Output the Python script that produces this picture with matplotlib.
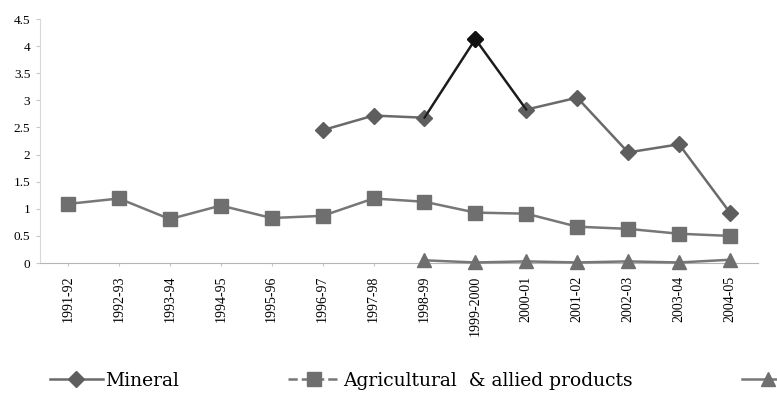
import numpy as np
import matplotlib
matplotlib.use("Agg")
import matplotlib.pyplot as plt
from matplotlib.lines import Line2D

years = ["1991-92", "1992-93", "1993-94", "1994-95", "1995-96", "1996-97", "1997-98",
         "1998-99", "1999-2000", "2000-01", "2001-02", "2002-03", "2003-04", "2004-05"]
mineral = [np.nan, np.nan, np.nan, np.nan, np.nan, 2.45, 2.72, 2.68, 4.13, 2.83, 3.05,
           2.04, 2.19, 0.93]
agri = [1.09, 1.19, 0.81, 1.06, 0.83, 0.87, 1.19, 1.13, 0.93, 0.91, 0.67, 0.63, 0.54, 0.50]
other = [np.nan, np.nan, np.nan, np.nan, np.nan, np.nan, np.nan, 0.05, 0.01, 0.03, 0.01,
         0.03, 0.01, 0.06]
yticks = [0, 0.5, 1, 1.5, 2, 2.5, 3, 3.5, 4, 4.5]
ytick_labels = ["0", "0.5", "1", "1.5", "2", "2.5", "3", "3.5", "4", "4.5"]
legend_labels = ["Mineral", "Agricultural  & allied products", ""]
peak = 8  # 1999-2000

plt.rcParams["font.family"] = ["Liberation Serif", "DejaVu Serif"]
fig = plt.figure(figsize=(7.77, 3.97), dpi=100)
ax = fig.add_axes([0.0515, 0.3375, 0.924, 0.6145])
x = np.arange(len(years))

sq = dict(color="#777777", lw=1.8, marker="s", ms=9.5, mfc="#6f6f6f", mec="#6f6f6f")
tri = dict(color="#777777", lw=1.8, marker="^", ms=10.5, mfc="#6f6f6f", mec="#6f6f6f")
dia = dict(color="#6a6a6a", lw=1.8, marker="D", ms=8.5, mfc="#5e5e5e", mec="#5e5e5e")

ax.plot(x, agri, **sq)
ax.plot(x, other, clip_on=False, zorder=3, **tri)
ax.plot(x, mineral, **dia)
# darker segments around the peak year
xs = x[peak - 1:peak + 2]
ax.plot(xs, mineral[peak - 1:peak + 2], color="#1a1a1a", lw=1.5)
ax.plot(x[peak], mineral[peak], marker="D", ms=8.5, color="#111111", ls="none")

ax.set_xlim(-0.55, len(years) - 0.45)
ax.set_ylim(0, 4.5)
ax.set_yticks(yticks)
ax.set_yticklabels(ytick_labels, fontsize=9.5)
ax.set_xticks(x)
ax.set_xticklabels(years, rotation=90, fontsize=10)
for s in ["top", "right"]:
    ax.spines[s].set_visible(False)
ax.spines["left"].set_color("#d8d8d8")
ax.spines["bottom"].set_color("#b5b5b5")
ax.tick_params(axis="y", length=3, color="#c8c8c8", pad=4)
ax.tick_params(axis="x", length=2, color="#c8c8c8", pad=7)

handles = [
    Line2D([], [], **dia),
    Line2D([], [], **{**sq, "ls": "--"}),
    Line2D([], [], **tri),
]
fig.legend(handles, legend_labels, ncol=3, loc="center left",
           bbox_to_anchor=(50 / 777, 1 - 381 / 397), borderpad=0, borderaxespad=0,
           frameon=False, prop={"family": ["DejaVu Serif"], "size": 13.5},
           columnspacing=5.8, handlelength=2.8, handletextpad=0.15)

fig.savefig("out.png", dpi=100)
